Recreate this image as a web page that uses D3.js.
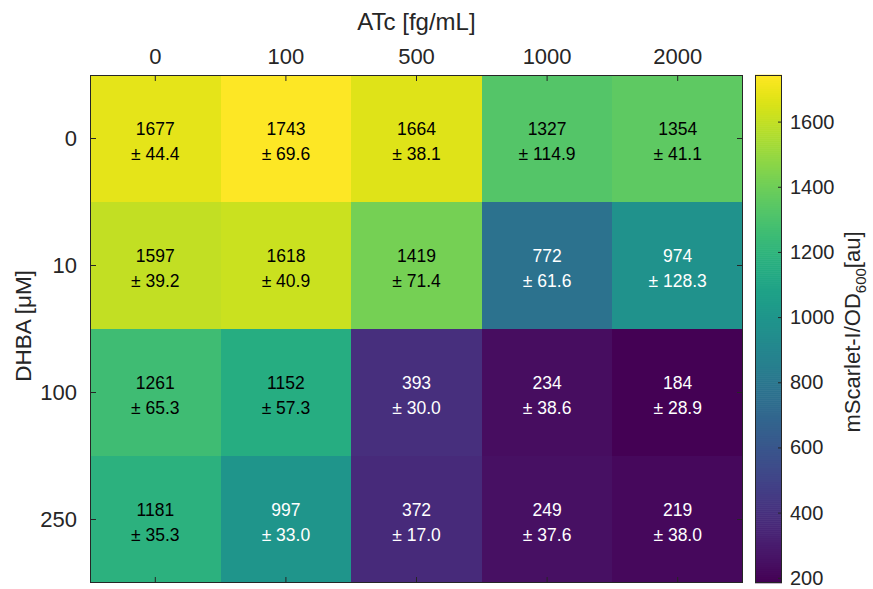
<!DOCTYPE html>
<html>
<head>
<meta charset="utf-8">
<script src="https://cdn.jsdelivr.net/npm/d3@7/dist/d3.min.js"></script>
<style>
  html, body { margin: 0; padding: 0; background: #ffffff; }
  svg { display: block; font-family: "Liberation Sans", Arial, Helvetica, sans-serif; }
</style>
</head>
<body>
<svg id="chart" width="873" height="589"></svg>
<script>
// ATc concentrations (columns) and DHBA concentrations (rows)
const atcLevels = ["0", "100", "500", "1000", "2000"];
const dhbaLevels = ["0", "10", "100", "250"];

// Mean mScarlet-I/OD600 per DHBA row
const meanRow0 = [1677, 1743, 1664, 1327, 1354];
const meanRow1 = [1597, 1618, 1419, 772, 974];
const meanRow2 = [1261, 1152, 393, 234, 184];
const meanRow3 = [1181, 997, 372, 249, 219];

// Standard deviations per DHBA row
const sdRow0 = [44.4, 69.6, 38.1, 114.9, 41.1];
const sdRow1 = [39.2, 40.9, 71.4, 61.6, 128.3];
const sdRow2 = [65.3, 57.3, 30.0, 38.6, 28.9];
const sdRow3 = [35.3, 33.0, 17.0, 37.6, 38.0];

// Colorbar ticks
const colorbarTicks = [200, 400, 600, 800, 1000, 1200, 1400, 1600];

const means = [meanRow0, meanRow1, meanRow2, meanRow3];
const sds = [sdRow0, sdRow1, sdRow2, sdRow3];

const cells = [];
dhbaLevels.forEach((d, r) => {
  atcLevels.forEach((a, c) => {
    cells.push({ dhba: d, atc: a, mean: means[r][c], sd: sds[r][c] });
  });
});

const svg = d3.select("#chart");
const ink = "#262626";

const plot = { left: 90, right: 743, top: 75, bottom: 583 };
const cbar = { left: 755, right: 782, top: 75, bottom: 583 };

const x = d3.scaleBand().domain(atcLevels).range([plot.left, plot.right]);
const y = d3.scaleBand().domain(dhbaLevels).range([plot.top, plot.bottom]);

const vmin = d3.min(cells, d => d.mean);
const vmax = d3.max(cells, d => d.mean);
const color = d3.scaleSequential(d3.interpolateViridis).domain([vmin, vmax]);

// Heatmap cells
svg.append("g")
  .attr("shape-rendering", "crispEdges")
  .selectAll("rect")
  .data(cells)
  .join("rect")
  .attr("x", d => Math.round(x(d.atc)))
  .attr("y", d => Math.round(y(d.dhba)))
  .attr("width", d => Math.round(x(d.atc) + x.bandwidth()) - Math.round(x(d.atc)))
  .attr("height", d => Math.round(y(d.dhba) + y.bandwidth()) - Math.round(y(d.dhba)))
  .attr("fill", d => color(d.mean));

// Cell annotations: mean and ± sd
const labels = svg.append("g")
  .selectAll("g")
  .data(cells)
  .join("g")
  .attr("transform", d => `translate(${x(d.atc) + x.bandwidth() / 2},${y(d.dhba) + y.bandwidth() / 2})`)
  .attr("fill", d => d.mean < 1000 ? "#ffffff" : "#000000")
  .attr("font-size", 17.5)
  .attr("text-anchor", "middle");

labels.append("text")
  .attr("y", -10)
  .attr("dy", "0.35em")
  .text(d => d3.format("d")(d.mean));

labels.append("text")
  .attr("y", 15)
  .attr("dy", "0.35em")
  .text(d => "\u00B1 " + d.sd.toFixed(1));

// Axes with inward ticks, mirrored on all sides
const tickLen = 6;
const topAxis = d3.axisTop(x).tickSize(-tickLen).tickPadding(tickLen + 5);
const bottomAxis = d3.axisBottom(x).tickSize(-tickLen).tickFormat("");
const leftAxis = d3.axisLeft(y).tickSize(-tickLen).tickPadding(tickLen + 7);
const rightAxis = d3.axisRight(y).tickSize(-tickLen).tickFormat("");

function styleAxis(g, fontSize) {
  g.select(".domain").remove();
  g.selectAll(".tick line").attr("stroke", ink).attr("stroke-width", 1);
  g.selectAll(".tick text").attr("fill", ink).attr("font-size", fontSize)
    .attr("font-family", "'Liberation Sans', Arial, Helvetica, sans-serif");
}

svg.append("g").attr("transform", `translate(0,${plot.top})`).call(topAxis).call(g => styleAxis(g, 22));
svg.append("g").attr("transform", `translate(0,${plot.bottom})`).call(bottomAxis).call(g => styleAxis(g, 22));
svg.append("g").attr("transform", `translate(${plot.left},0)`).call(leftAxis).call(g => styleAxis(g, 22));
svg.append("g").attr("transform", `translate(${plot.right},0)`).call(rightAxis).call(g => styleAxis(g, 22));

// Plot frame
svg.append("rect")
  .attr("x", plot.left + 0.5).attr("y", plot.top + 0.5)
  .attr("width", plot.right - plot.left - 1).attr("height", plot.bottom - plot.top - 1)
  .attr("fill", "none").attr("stroke", ink).attr("stroke-width", 1);

// Axis titles
svg.append("text")
  .attr("x", (plot.left + plot.right) / 2).attr("y", 30)
  .attr("text-anchor", "middle").attr("font-size", 24).attr("fill", ink)
  .text("ATc [fg/mL]");

svg.append("text")
  .attr("transform", `translate(31,${(plot.top + plot.bottom) / 2 - 3}) rotate(-90)`)
  .attr("text-anchor", "middle").attr("font-size", 22.5).attr("fill", ink)
  .text("DHBA [\u03BCM]");

// Colorbar
const cy = d3.scaleLinear().domain([vmin, vmax]).range([cbar.bottom, cbar.top]);
const nSteps = 256;
const steps = d3.range(nSteps).map(i => vmin + (vmax - vmin) * (i + 0.5) / nSteps);
const stepH = (cbar.bottom - cbar.top) / nSteps;

svg.append("g")
  .selectAll("rect")
  .data(steps)
  .join("rect")
  .attr("x", cbar.left)
  .attr("y", d => cy(d) - stepH / 2 - 0.3)
  .attr("width", cbar.right - cbar.left)
  .attr("height", stepH + 0.6)
  .attr("fill", d => color(d));

const cAxis = d3.axisRight(cy).tickValues(colorbarTicks).tickFormat(d3.format("d")).tickSize(-4).tickPadding(8);
svg.append("g").attr("transform", `translate(${cbar.right},0)`).call(cAxis).call(g => styleAxis(g, 20));

svg.append("rect")
  .attr("x", cbar.left + 0.5).attr("y", cbar.top + 0.5)
  .attr("width", cbar.right - cbar.left - 1).attr("height", cbar.bottom - cbar.top - 1)
  .attr("fill", "none").attr("stroke", ink).attr("stroke-width", 1);

// Colorbar label with subscript
const cLabel = svg.append("text")
  .attr("transform", `translate(860,${(cbar.top + cbar.bottom) / 2 + 3}) rotate(-90)`)
  .attr("text-anchor", "middle").attr("font-size", 22).attr("fill", ink);
cLabel.append("tspan").text("mScarlet-I/OD");
cLabel.append("tspan").attr("font-size", 15).attr("dy", 6).text("600");
cLabel.append("tspan").attr("dy", -6).text("[au]");
</script>
</body>
</html>
